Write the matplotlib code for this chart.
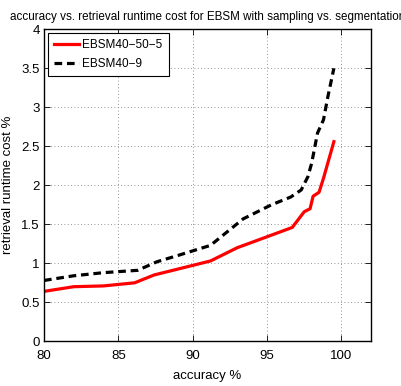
# accuracy vs retrieval runtime cost, EBSM sampling vs segmentation

import matplotlib
matplotlib.use("Agg")
import matplotlib.pyplot as plt
from matplotlib.ticker import FuncFormatter

acc_seg = [80.0, 82.0, 84.0, 86.1, 87.4, 89.3, 91.2, 93.0, 95.0, 96.7, 97.5, 97.9, 98.1, 98.5, 98.8, 99.5]
cost_seg = [0.64, 0.70, 0.71, 0.75, 0.85, 0.94, 1.03, 1.20, 1.34, 1.46, 1.66, 1.70, 1.86, 1.91, 2.09, 2.56]

acc_samp = [80.0, 82.0, 84.0, 86.3, 87.6, 89.0, 91.2, 92.3, 93.4, 95.3, 96.6, 97.3, 97.75, 98.0, 98.4, 98.8, 99.1, 99.5]
cost_samp = [0.78, 0.84, 0.88, 0.91, 1.02, 1.10, 1.23, 1.40, 1.57, 1.75, 1.85, 1.94, 2.11, 2.28, 2.67, 2.84, 3.14, 3.50]

plt.rcParams['font.family'] = ['Liberation Sans', 'DejaVu Sans']

fig = plt.figure(figsize=(4.02, 3.86), dpi=100)
ax = fig.add_axes([0.1095, 0.1158, 0.8135, 0.8083])

ax.plot(acc_seg, cost_seg, color='red', linewidth=2.3, label="EBSM40\u221250\u22125")
ax.plot(acc_samp, cost_samp, color='black', linewidth=2.3, linestyle=(0, (2.4, 1.5)), label="EBSM40\u22129")

ax.set_xlim(80, 102)
ax.set_ylim(0, 4)
ax.set_xticks([80, 85, 90, 95, 100])
ax.set_yticks([0, 0.5, 1, 1.5, 2, 2.5, 3, 3.5, 4])
ax.yaxis.set_major_formatter(FuncFormatter(lambda v, p: format(v, 'g')))
ax.tick_params(direction='in', top=True, right=True, labelsize=9.5, length=4, width=0.6)
ax.tick_params(axis='x', pad=6)
ax.tick_params(axis='y', pad=3)
ax.grid(True, linestyle=(0, (1, 3)), color='0.45', linewidth=0.6)
for s in ax.spines.values():
    s.set_linewidth(1.0)

ax.set_xlabel("accuracy %", fontsize=9.5, labelpad=6)
ax.set_ylabel("retrieval runtime cost %", fontsize=9.5, labelpad=5)
ax.set_title("accuracy vs. retrieval runtime cost for EBSM with sampling vs. segmentation", fontsize=8.4, pad=7)

leg = ax.legend(loc='upper left', fontsize=8.5, fancybox=False, framealpha=1, edgecolor='black',
                handlelength=2.1, handletextpad=0.3, borderaxespad=0.35, labelspacing=0.6,
                borderpad=0.5)
leg.get_frame().set_linewidth(0.8)

fig.savefig("out.png", dpi=100)
